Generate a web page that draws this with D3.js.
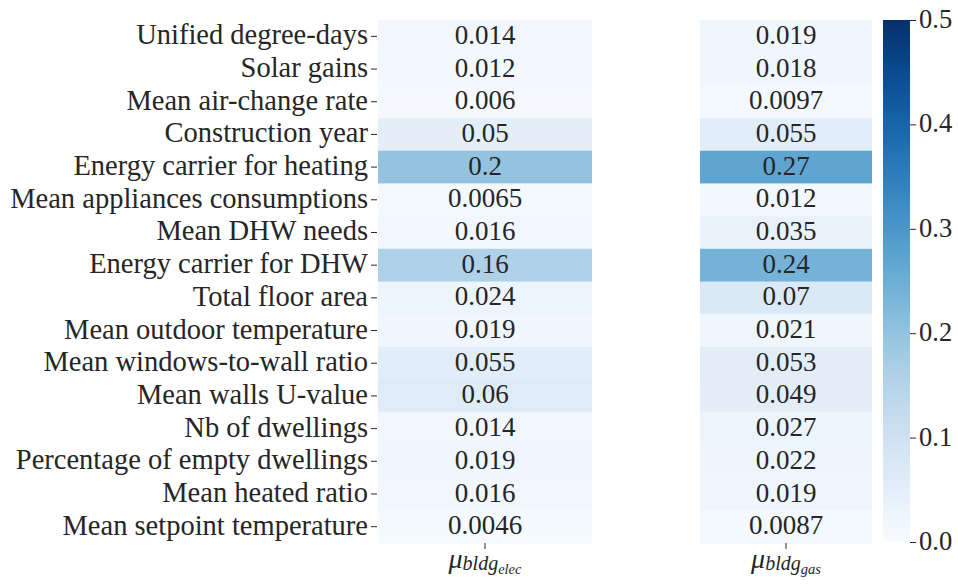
<!DOCTYPE html>
<html>
<head>
<meta charset="utf-8">
<script src="https://cdn.jsdelivr.net/npm/d3@7"></script>
<style>
  html, body { margin: 0; padding: 0; background: #fff; }
  svg { display: block; }
  text { font-family: "Liberation Serif", "DejaVu Serif", serif; }
</style>
</head>
<body>
<svg id="chart" width="958" height="586"></svg>
<script>
const rows = [
  "Unified degree-days",
  "Solar gains",
  "Mean air-change rate",
  "Construction year",
  "Energy carrier for heating",
  "Mean appliances consumptions",
  "Mean DHW needs",
  "Energy carrier for DHW",
  "Total floor area",
  "Mean outdoor temperature",
  "Mean windows-to-wall ratio",
  "Mean walls U-value",
  "Nb of dwellings",
  "Percentage of empty dwellings",
  "Mean heated ratio",
  "Mean setpoint temperature"
];
const elecValues = [0.014, 0.012, 0.006, 0.05, 0.2, 0.0065, 0.016, 0.16, 0.024, 0.019, 0.055, 0.06, 0.014, 0.019, 0.016, 0.0046];
const gasValues  = [0.019, 0.018, 0.0097, 0.055, 0.27, 0.012, 0.035, 0.24, 0.07, 0.021, 0.053, 0.049, 0.027, 0.022, 0.019, 0.0087];
const colorTicks = [0.0, 0.1, 0.2, 0.3, 0.4, 0.5];
const colorDomain = [0, 0.5];

const LABEL_FONT = 28.5, ANN_FONT = 27, CB_FONT = 26.5;
const INK = "#262626";
const svg = d3.select("#chart");
const plotTop = 20, plotBottom = 543;

const color = d3.scaleSequential(d3.interpolateBlues).domain(colorDomain);
const y = d3.scaleBand().domain(rows).range([plotTop, plotBottom]).padding(0);
const fmt = d3.format(".2~g");

function textColor(v) {
  const c = d3.rgb(color(v));
  const lum = (0.299 * c.r + 0.587 * c.g + 0.114 * c.b) / 255;
  return lum < 0.55 ? "#ffffff" : INK;
}

function heatmap(values, x0, x1) {
  const g = svg.append("g");
  g.selectAll("rect").data(values).enter().append("rect")
    .attr("x", x0)
    .attr("y", (d, i) => y(rows[i]))
    .attr("width", x1 - x0)
    .attr("height", y.bandwidth() + 0.5)
    .attr("fill", d => color(d));
  g.selectAll("text.ann").data(values).enter().append("text")
    .attr("class", "ann")
    .attr("x", (x0 + x1) / 2)
    .attr("y", (d, i) => y(rows[i]) + y.bandwidth() / 2)
    .attr("dy", "0.28em")
    .attr("text-anchor", "middle")
    .attr("font-size", ANN_FONT)
    .attr("fill", d => textColor(d))
    .text(d => fmt(d));
  g.append("line")
    .attr("x1", (x0 + x1) / 2).attr("x2", (x0 + x1) / 2)
    .attr("y1", plotBottom).attr("y2", plotBottom + 6)
    .attr("stroke", INK).attr("stroke-width", 1);
  return g;
}

const L0 = 378, L1 = 592, R0 = 700, R1 = 872;
heatmap(elecValues, L0, L1);
heatmap(gasValues, R0, R1);

const yAxis = d3.axisLeft(y).tickSize(6).tickPadding(3);
const ya = svg.append("g").attr("transform", `translate(${L0 - 1},0)`).call(yAxis);
ya.select(".domain").remove();
ya.selectAll("line").attr("stroke", INK);
ya.selectAll("text").attr("font-size", LABEL_FONT).attr("fill", INK).attr("dy", "0.28em");

function xLabel(cx, sub) {
  const t = svg.append("text")
    .attr("x", cx).attr("y", 568)
    .attr("text-anchor", "middle")
    .attr("fill", INK)
    .attr("font-style", "italic");
  t.append("tspan").attr("font-size", 28).text("μ");
  t.append("tspan").attr("font-size", 20).attr("dy", 2).text("bldg");
  t.append("tspan").attr("font-size", 14.5).attr("dy", 4).text(sub);
}
xLabel((L0 + L1) / 2, "elec");
xLabel((R0 + R1) / 2, "gas");

const CB0 = 883, CB1 = 910, cbTop = 20, cbBottom = 542;
const defs = svg.append("defs");
const grad = defs.append("linearGradient").attr("id", "cbgrad")
  .attr("x1", 0).attr("y1", 1).attr("x2", 0).attr("y2", 0);
d3.range(0, 1.0001, 0.05).forEach(t => {
  grad.append("stop").attr("offset", t)
    .attr("stop-color", color(colorDomain[0] + t * (colorDomain[1] - colorDomain[0])));
});
svg.append("rect")
  .attr("x", CB0).attr("y", cbTop)
  .attr("width", CB1 - CB0).attr("height", cbBottom - cbTop)
  .attr("fill", "url(#cbgrad)");
const cy = d3.scaleLinear().domain(colorDomain).range([cbBottom, cbTop]);
const cAxis = d3.axisRight(cy).tickValues(colorTicks).tickFormat(d3.format(".1f")).tickSize(6).tickPadding(3);
const ca = svg.append("g").attr("transform", `translate(${CB1},0)`).call(cAxis);
ca.select(".domain").remove();
ca.selectAll("line").attr("stroke", INK);
ca.selectAll("text").attr("font-size", CB_FONT).attr("fill", INK).attr("dy", "0.28em");
</script>
</body>
</html>
